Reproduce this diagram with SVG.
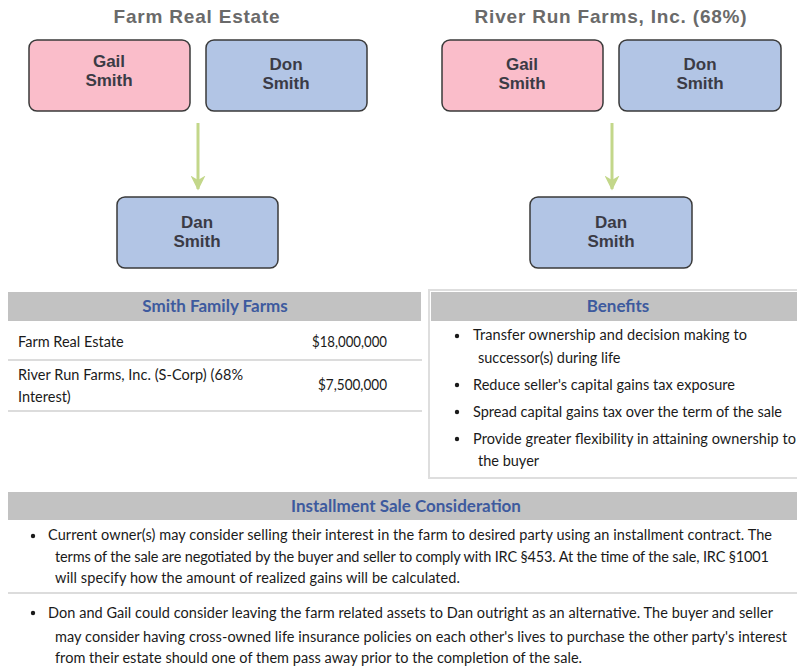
<svg xmlns="http://www.w3.org/2000/svg" width="797" height="669" viewBox="0 0 797 669">
<style>
.title{font-family:"Liberation Sans",Arial,sans-serif;font-weight:bold;font-size:19px;fill:#6a6a6a;text-anchor:middle;letter-spacing:0.8px}
.box{stroke:#3a3a3a;stroke-width:1.5}
.pink{fill:#fabdca}
.blue{fill:#b2c5e5}
.bt{font-family:"Liberation Sans",Arial,sans-serif;font-weight:bold;font-size:17px;fill:#3b3b45;text-anchor:middle}
.hdr{fill:#c2c2c2}
.ht{font-family:Lato,"Liberation Sans",sans-serif;font-weight:bold;font-size:17px;fill:#3d5a9e;text-anchor:middle}
.tx{font-family:Lato,"Liberation Sans",sans-serif;font-size:14.5px;fill:#1a1a1a}
.r{text-anchor:end}
.sep{stroke:#dcdcdc;stroke-width:2}
.arrow{stroke:#c3d78a;stroke-width:3;fill:none}
</style>
<defs>
<marker id="ah" viewBox="0 0 10 10" refX="9" refY="5" markerWidth="5" markerHeight="5" orient="auto" markerUnits="strokeWidth">
<path d="M0,0 L10,5 L0,10 L3,5 Z" fill="#c3d78a"/>
</marker>
</defs>
<rect width="797" height="669" fill="#ffffff"/>

<text class="title" x="197" y="23">Farm Real Estate</text>
<text class="title" x="611" y="23">River Run Farms, Inc. (68%)</text>

<g id="gail1"><rect class="box pink" x="29" y="40" width="161" height="71" rx="8"/><text class="bt" x="109" y="67">Gail</text><text class="bt" x="109" y="86">Smith</text></g>
<g id="don1"><rect class="box blue" x="206" y="40" width="161" height="71" rx="8"/><text class="bt" x="286" y="70">Don</text><text class="bt" x="286" y="89">Smith</text></g>
<g id="dan1"><rect class="box blue" x="117" y="197" width="161" height="71" rx="8"/><text class="bt" x="197" y="228">Dan</text><text class="bt" x="197" y="247">Smith</text></g>

<g id="gail2"><rect class="box pink" x="442" y="40" width="161" height="71" rx="8"/><text class="bt" x="522" y="70">Gail</text><text class="bt" x="522" y="89">Smith</text></g>
<g id="don2"><rect class="box blue" x="619" y="40" width="162" height="71" rx="8"/><text class="bt" x="700" y="70">Don</text><text class="bt" x="700" y="89">Smith</text></g>
<g id="dan2"><rect class="box blue" x="530" y="197" width="162" height="71" rx="8"/><text class="bt" x="611" y="228">Dan</text><text class="bt" x="611" y="247">Smith</text></g>

<g id="connectors">
<line class="arrow" x1="198" y1="123" x2="198" y2="189" marker-end="url(#ah)"/>
<line class="arrow" x1="612" y1="123" x2="612" y2="189" marker-end="url(#ah)"/>
</g>

<g id="smith-family-farms">
<rect class="hdr" x="8" y="292" width="413" height="29"/>
<text class="ht" x="215" y="312">Smith Family Farms</text>
<text class="tx" x="18" y="347">Farm Real Estate</text>
<text class="tx" x="312" y="347" textLength="75" lengthAdjust="spacingAndGlyphs">$18,000,000</text>
<line class="sep" x1="8" y1="360" x2="422" y2="360"/>
<text class="tx" x="18" y="380" textLength="225" lengthAdjust="spacing">River Run Farms, Inc. (S-Corp) (68%</text>
<text class="tx" x="18" y="402">Interest)</text>
<text class="tx" x="318" y="390" textLength="69" lengthAdjust="spacingAndGlyphs">$7,500,000</text>
<line class="sep" x1="8" y1="411" x2="422" y2="411"/>
</g>

<g id="benefits">
<rect x="429" y="290" width="372" height="188" fill="none" stroke="#dedede" stroke-width="2"/>
<rect class="hdr" x="431" y="292" width="366" height="29"/>
<text class="ht" x="618" y="312">Benefits</text>
<circle cx="457" cy="336" r="2.2" fill="#1a1a1a"/>
<text class="tx" x="473" y="340" textLength="274" lengthAdjust="spacing">Transfer ownership and decision making to</text>
<text class="tx" x="478" y="363">successor(s) during life</text>
<circle cx="457" cy="385" r="2.2" fill="#1a1a1a"/>
<text class="tx" x="473" y="390" textLength="262" lengthAdjust="spacing">Reduce seller's capital gains tax exposure</text>
<circle cx="457" cy="412" r="2.2" fill="#1a1a1a"/>
<text class="tx" x="473" y="417" textLength="309" lengthAdjust="spacing">Spread capital gains tax over the term of the sale</text>
<circle cx="457" cy="439" r="2.2" fill="#1a1a1a"/>
<text class="tx" x="473" y="444" textLength="323" lengthAdjust="spacing">Provide greater flexibility in attaining ownership to</text>
<text class="tx" x="478" y="466">the buyer</text>
</g>

<g id="installment">
<rect class="hdr" x="8" y="492" width="789" height="28"/>
<text class="ht" x="406" y="512">Installment Sale Consideration</text>
<circle cx="33" cy="536" r="2.2" fill="#1a1a1a"/>
<text class="tx" x="48" y="540" textLength="724" lengthAdjust="spacing">Current owner(s) may consider selling their interest in the farm to desired party using an installment contract. The</text>
<text class="tx" x="55" y="562" textLength="714" lengthAdjust="spacing">terms of the sale are negotiated by the buyer and seller to comply with IRC §453. At the time of the sale, IRC §1001</text>
<text class="tx" x="55" y="583" textLength="405" lengthAdjust="spacing">will specify how the amount of realized gains will be calculated.</text>
<line class="sep" x1="8" y1="593" x2="797" y2="593"/>
<circle cx="33" cy="613" r="2.2" fill="#1a1a1a"/>
<text class="tx" x="48" y="618" textLength="725" lengthAdjust="spacing">Don and Gail could consider leaving the farm related assets to Dan outright as an alternative.  The buyer and seller</text>
<text class="tx" x="55" y="642" textLength="732" lengthAdjust="spacing">may consider having cross-owned life insurance policies on each other's lives to purchase the other party's interest</text>
<text class="tx" x="55" y="663" textLength="527" lengthAdjust="spacing">from their estate should one of them pass away prior to the completion of the sale.</text>
</g>
</svg>
